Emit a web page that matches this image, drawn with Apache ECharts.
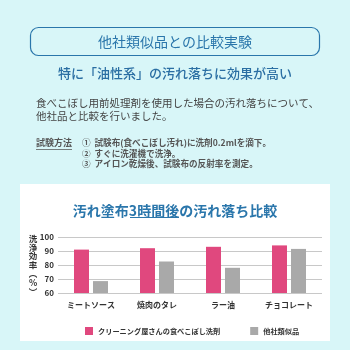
<!DOCTYPE html>
<html>
<head>
<meta charset="utf-8">
<script src="https://cdn.jsdelivr.net/npm/echarts@6/dist/echarts.min.js"></script>
<style>
  html, body { margin: 0; padding: 0; background: #d8f6f8; }
  #main { width: 350px; height: 350px; }
</style>
</head>
<body>
<div id="main"></div>
<script>
// data
var categories = ["ミートソース", "焼肉のタレ", "ラー油", "チョコレート"];
var ownProduct = [91, 92, 93, 94];
var otherProduct = [68.5, 82.5, 78, 91.5];
var seriesNames = ["クリーニング屋さんの食べこぼし洗剤", "他社類似品"];
var yTicks = { min: 60, max: 100, step: 10 };

var FONT = '"Noto Sans CJK JP", "Noto Sans", sans-serif';
var BLUE = "#2a76ab";

var chart = echarts.init(document.getElementById("main"));

chart.setOption({
  backgroundColor: "#d8f6f8",
  textStyle: { fontFamily: FONT },
  animation: false,
  graphic: [
    // white panel behind chart
    { type: "rect", z: -10, shape: { x: 20, y: 184, width: 310, height: 157 }, style: { fill: "#fff" } },
    // header box
    { type: "rect", shape: { x: 30.5, y: 27.5, width: 289, height: 28, r: 8 }, style: { fill: "none", stroke: BLUE, lineWidth: 1.2 } },
    { type: "text", x: 175, y: 42, style: { text: "他社類似品との比較実験", font: "14px " + FONT, fill: BLUE, align: "center", verticalAlign: "middle" } },
    { type: "text", x: 175, y: 73, style: { text: "特に「油性系」の汚れ落ちに効果が高い", font: "500 13px " + FONT, fill: "#2a6ea3", align: "center", verticalAlign: "middle" } },
    // paragraph
    { type: "text", x: 36, y: 103, style: { text: "食べこぼし用前処理剤を使用した場合の汚れ落ちについて、", font: "10.5px " + FONT, fill: "#444", verticalAlign: "middle" } },
    { type: "text", x: 36, y: 116, style: { text: "他社品と比較を行いました。", font: "10.5px " + FONT, fill: "#444", verticalAlign: "middle" } },
    // method
    { type: "text", x: 36, y: 143, style: { text: "試験方法", font: "bold 9px " + FONT, fill: "#555", verticalAlign: "middle" } },
    { type: "rect", shape: { x: 36, y: 149, width: 36, height: 0.8 }, style: { fill: "#555" } },
    { type: "text", x: 82, y: 143, style: { text: "①  試験布(食べこぼし汚れ)に洗剤0.2mlを滴下。", font: "bold 8.6px " + FONT, fill: "#555", verticalAlign: "middle" } },
    { type: "text", x: 82, y: 153.5, style: { text: "②  すぐに洗濯機で洗浄。", font: "bold 8.6px " + FONT, fill: "#555", verticalAlign: "middle" } },
    { type: "text", x: 82, y: 164, style: { text: "③  アイロン乾燥後、試験布の反射率を測定。", font: "bold 8.6px " + FONT, fill: "#555", verticalAlign: "middle" } },
    // y axis name, stacked vertically
    { type: "text", x: 33, y: 265, style: { text: "洗\n浄\n効\n率\n︵\n%\n︶", font: "bold 8.5px " + FONT, fill: "#333", align: "center", verticalAlign: "middle", lineHeight: 8.8 } },
    // chart title underline
    { type: "rect", z: 10, shape: { x: 130, y: 217, width: 49, height: 1 }, style: { fill: BLUE } }
  ],
  title: {
    text: "汚れ塗布3時間後の汚れ落ち比較",
    left: "center",
    top: 199,
    textStyle: { fontFamily: FONT, fontSize: 14, fontWeight: "bold", color: BLUE }
  },
  legend: {
    left: 80,
    top: 322,
    itemWidth: 8,
    itemHeight: 8,
    itemGap: 30,
    icon: "rect",
    textStyle: { fontFamily: FONT, fontSize: 7.2, color: "#333", fontWeight: "bold" },
    data: seriesNames
  },
  grid: { left: 58, right: 28, top: 237, bottom: 57 },
  xAxis: {
    type: "category",
    data: categories,
    axisTick: { show: false },
    axisLine: { show: false },
    axisLabel: { fontFamily: FONT, fontSize: 8, color: "#333", fontWeight: "bold", margin: 8 }
  },
  yAxis: {
    type: "value",
    min: yTicks.min,
    max: yTicks.max,
    interval: yTicks.step,
    axisLabel: { fontFamily: FONT, fontSize: 8, fontWeight: "bold", color: "#333", margin: 4 },
    splitLine: { lineStyle: { color: "#c8c8c8" } }
  },
  series: [
    {
      name: seriesNames[0],
      type: "bar",
      data: ownProduct,
      barWidth: 15,
      barGap: "27%",
      itemStyle: { color: "#e0487e" }
    },
    {
      name: seriesNames[1],
      type: "bar",
      data: otherProduct,
      barWidth: 15,
      itemStyle: { color: "#a9a9a9" }
    }
  ]
});
</script>
</body>
</html>
